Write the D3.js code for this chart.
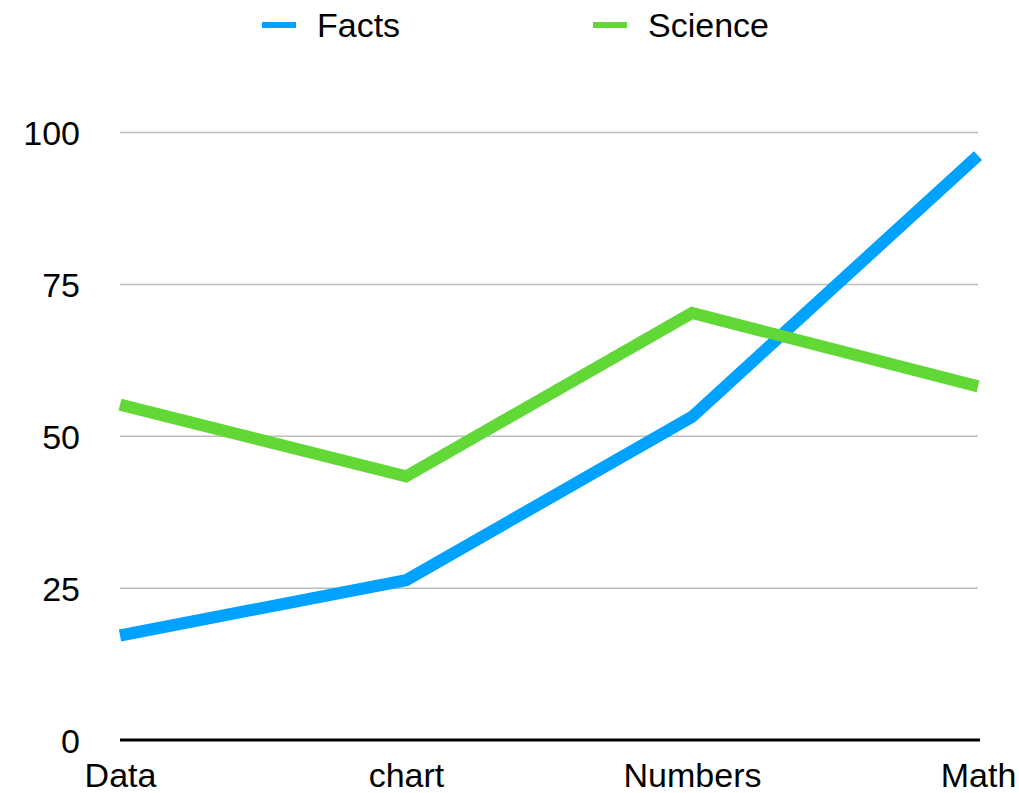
<!DOCTYPE html>
<html>
<head>
<meta charset="utf-8">
<script src="https://cdn.jsdelivr.net/npm/d3@7"></script>
<style>
  html, body { margin: 0; padding: 0; background: #fff; }
  svg { display: block; font-family: "Liberation Sans", Arial, Helvetica, sans-serif; }
</style>
</head>
<body>
<svg id="chart" width="1019" height="793"></svg>
<script>
// Categories along the x axis
const categories = ["Data", "chart", "Numbers", "Math"];
// Series values
const factsValues = [17.2, 26.3, 53.2, 96.2];
const scienceValues = [55.2, 43.4, 70.3, 58.2];
// Y axis ticks
const yTicks = [0, 25, 50, 75, 100];
const seriesNames = ["Facts", "Science"];
const seriesColors = ["#00a2ff", "#61d836"];

const series = [
  { name: seriesNames[0], color: seriesColors[0], values: factsValues },
  { name: seriesNames[1], color: seriesColors[1], values: scienceValues }
];

const svg = d3.select("#chart");
const plotLeft = 120, plotRight = 978, plotTop = 132.5, plotBottom = 740;
const fontSize = 34;

const x = d3.scalePoint().domain(categories).range([plotLeft, plotRight]);
const y = d3.scaleLinear().domain([0, 100]).range([plotBottom, plotTop]);

// Horizontal gridlines
svg.append("g")
  .selectAll("line")
  .data(yTicks.filter(d => d > 0))
  .join("line")
  .attr("x1", plotLeft).attr("x2", plotRight)
  .attr("y1", d => y(d)).attr("y2", d => y(d))
  .attr("stroke", "#bdbdbd")
  .attr("stroke-width", 1.5);

// Y axis tick labels
const yAxis = d3.axisLeft(y).tickValues(yTicks).tickSize(0).tickPadding(0);
svg.append("g")
  .attr("transform", "translate(80,0)")
  .call(yAxis)
  .call(g => g.select(".domain").remove())
  .selectAll("text")
  .attr("font-size", fontSize)
  .attr("font-family", "Liberation Sans, Arial, sans-serif")
  .attr("fill", "#000")
  .attr("dy", "0.36em");

// X axis labels
const xAxis = d3.axisBottom(x).tickSize(0).tickPadding(0);
svg.append("g")
  .attr("transform", `translate(0,${plotBottom})`)
  .call(xAxis)
  .call(g => g.select(".domain").remove())
  .selectAll("text")
  .attr("font-size", fontSize)
  .attr("font-family", "Liberation Sans, Arial, sans-serif")
  .attr("fill", "#000")
  .attr("y", 47)
  .attr("dy", 0);

// Baseline
svg.append("line")
  .attr("x1", plotLeft).attr("x2", 980)
  .attr("y1", plotBottom).attr("y2", plotBottom)
  .attr("stroke", "#000")
  .attr("stroke-width", 3);

// Series lines
const line = d3.line()
  .x((d, i) => x(categories[i]))
  .y(d => y(d));

svg.append("g")
  .selectAll("path")
  .data(series)
  .join("path")
  .attr("d", d => line(d.values))
  .attr("fill", "none")
  .attr("stroke", d => d.color)
  .attr("stroke-width", 12)
  .attr("stroke-linejoin", "miter")
  .attr("stroke-linecap", "butt");

// Legend
const legendX = [262, 593];
const legend = svg.append("g")
  .selectAll("g")
  .data(series)
  .join("g")
  .attr("transform", (d, i) => `translate(${legendX[i]},25)`);

legend.append("line")
  .attr("x1", 0).attr("x2", 34)
  .attr("y1", 0).attr("y2", 0)
  .attr("stroke", d => d.color)
  .attr("stroke-width", 6);

legend.append("text")
  .attr("x", 55)
  .attr("y", 12)
  .attr("font-size", fontSize)
  .attr("fill", "#000")
  .text(d => d.name);
</script>
</body>
</html>
